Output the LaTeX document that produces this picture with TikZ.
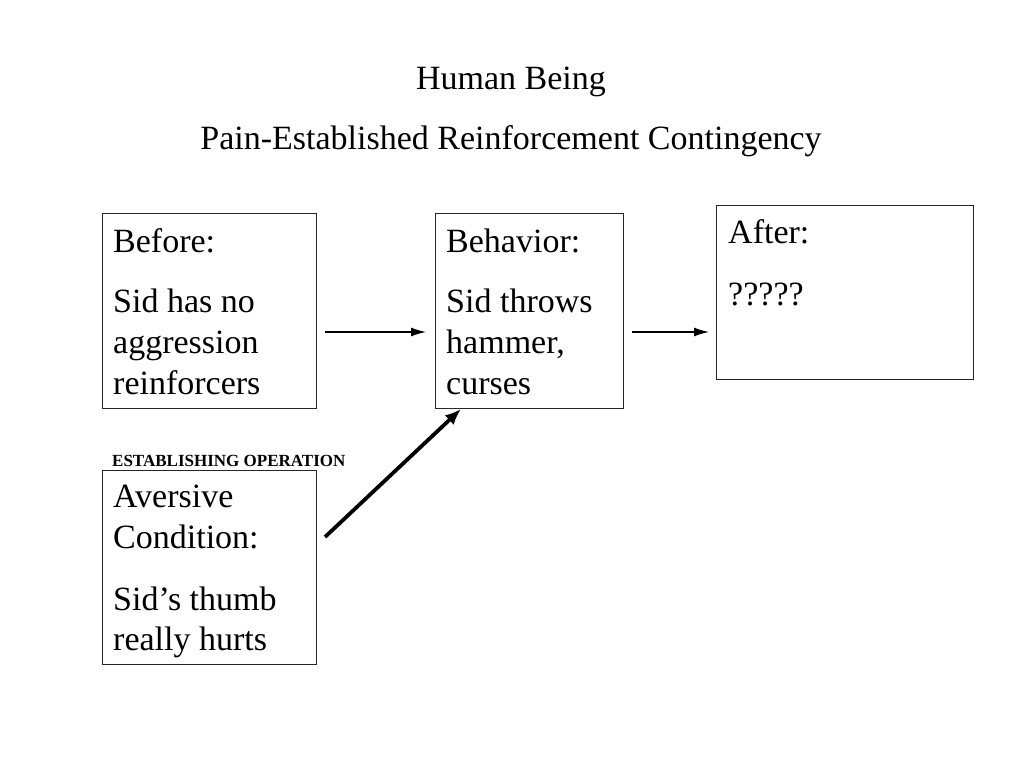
\documentclass[tikz,border=0pt]{standalone}
\usepackage{fontspec}
\setmainfont{Liberation Serif}
\usetikzlibrary{arrows.meta}
\begin{document}
\begin{tikzpicture}[x=1pt,y=-1pt,
  box/.style={draw=black!85,line width=1pt,inner sep=0pt,anchor=north west},
  txt/.style={anchor=base west,inner sep=0pt,font=\fontsize{34}{41}\selectfont},
  title/.style={anchor=base,inner sep=0pt,font=\fontsize{34}{41}\selectfont},
  thin arrow/.style={line width=1.3pt,-{Latex[length=15pt,width=9pt]}},
  thick arrow/.style={line width=3.8pt,-{Latex[length=16pt,width=13pt]}}]
\useasboundingbox (0,0) rectangle (1024,768);
\node[title] (t1) at (511,89) {Human Being};
\node[title] (t2) at (511,149) {Pain-Established Reinforcement Contingency};
% boxes
\node[box,minimum width=214pt,minimum height=195pt] (before) at (102,213) {};
\node[box,minimum width=188pt,minimum height=195pt] (behav) at (435,213) {};
\node[box,minimum width=257pt,minimum height=174pt] (after) at (716,205) {};
\node[box,minimum width=214pt,minimum height=194pt] (avers) at (102,470) {};
% texts
\node[txt] (b1) at (113,252) {Before:};
\node[txt] (b2) at (113,312) {Sid has no};
\node[txt] (b3) at (113,353) {aggression};
\node[txt] (b4) at (113,394) {reinforcers};
\node[txt] (h1) at (446,252) {Behavior:};
\node[txt] (h2) at (446,312) {Sid throws};
\node[txt] (h3) at (446,353) {hammer,};
\node[txt] (h4) at (446,394) {curses};
\node[txt] (a1) at (728,243) {After:};
\node[txt] (a2) at (728,305) {?????};
\node[txt] (v1) at (113,507) {Aversive};
\node[txt] (v2) at (113,548) {Condition:};
\node[txt] (v3) at (113,610) {Sid’s thumb};
\node[txt] (v4) at (113,650) {really hurts};
\node[anchor=base west,inner sep=0pt,font=\fontsize{17}{20}\selectfont\bfseries] (eo) at (112,466) {ESTABLISHING OPERATION};
% arrows
\coordinate (p1) at (325,332);
\coordinate (p2) at (426,332);
\coordinate (p3) at (632,332);
\coordinate (p4) at (709,332);
\coordinate (p5) at (325,537);
\coordinate (p6) at (461,409);
\draw[thin arrow] (p1) -- (p2);
\draw[thin arrow] (p3) -- (p4);
\draw[thick arrow] (p5) -- (p6);
\end{tikzpicture}
\end{document}
